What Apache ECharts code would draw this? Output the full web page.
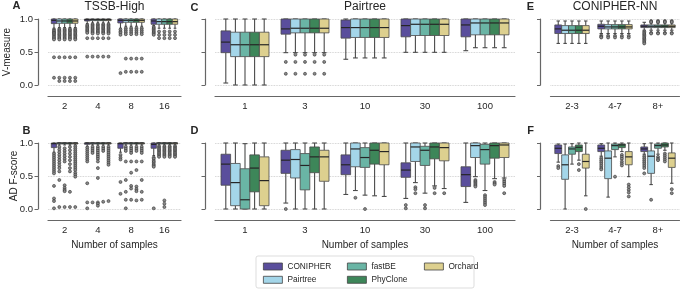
<!DOCTYPE html>
<html><head><meta charset="utf-8">
<script src="https://cdn.jsdelivr.net/npm/echarts@6/dist/echarts.min.js"></script>
<style>html,body{margin:0;padding:0;background:#fff}#c{width:686px;height:290px}</style>
</head><body><div id="c"></div>
<script>
// ---------- data ----------
const methods = ['CONIPHER', 'Pairtree', 'fastBE', 'PhyClone', 'Orchard'];
const catsTSSB = ['2', '4', '8', '16'];
const catsPairtree = ['1', '3', '10', '30', '100'];
const catsConipher = ['2-3', '4-7', '8+'];
const yTicks = [0, 0.5, 1.0];

// box stats per method (CONIPHER, Pairtree, fastBE, PhyClone, Orchard), per category: [lowWhisker, q1, median, q3, highWhisker]
const boxA = [
  [[0.86,0.93,0.98,1.0,1.0],[0.93,0.97,0.99,1.0,1.0],[0.86,0.94,0.98,1.0,1.0],[0.90,0.92,0.97,1.0,1.0]],
  [[0.87,0.935,0.97,1.0,1.0],[0.94,0.975,0.99,1.0,1.0],[0.89,0.95,0.98,1.0,1.0],[0.86,0.92,0.96,1.0,1.0]],
  [[0.87,0.935,0.97,1.0,1.0],[0.94,0.975,0.99,1.0,1.0],[0.89,0.95,0.98,1.0,1.0],[0.86,0.92,0.96,1.0,1.0]],
  [[0.87,0.935,0.97,1.0,1.0],[0.94,0.975,0.99,1.0,1.0],[0.89,0.95,0.98,1.0,1.0],[0.86,0.92,0.96,1.0,1.0]],
  [[0.87,0.935,0.97,1.0,1.0],[0.94,0.975,0.99,1.0,1.0],[0.89,0.95,0.98,1.0,1.0],[0.86,0.92,0.96,1.0,1.0]]
];
const outA = [
  [[0.84,0.82,0.80,0.79,0.77,0.75,0.73,0.71,0.69,0.42,0.11],[0.91,0.89,0.87,0.85,0.83,0.81,0.79,0.71,0.43],[0.84,0.81,0.79,0.76,0.18],[0.88,0.86,0.84,0.82,0.80,0.78,0.76]],
  [[0.85,0.83,0.81,0.79,0.77,0.75,0.73,0.71,0.69,0.42,0.11,0.06],[0.92,0.90,0.88,0.86,0.84,0.82,0.80,0.78,0.71,0.43],[0.86,0.83,0.80,0.77,0.40,0.20],[0.81,0.76,0.71]],
  [[0.85,0.83,0.81,0.79,0.77,0.75,0.73,0.71,0.69,0.42,0.11,0.06],[0.92,0.90,0.88,0.86,0.84,0.82,0.80,0.78,0.71,0.43],[0.86,0.83,0.80,0.77,0.40,0.20],[0.81,0.76,0.71]],
  [[0.85,0.83,0.81,0.79,0.77,0.75,0.73,0.71,0.69,0.42,0.11,0.06],[0.92,0.90,0.88,0.86,0.84,0.82,0.80,0.78,0.71,0.43],[0.86,0.83,0.80,0.77,0.40,0.20],[0.81,0.76,0.71]],
  [[0.85,0.83,0.81,0.79,0.77,0.75,0.73,0.71,0.69,0.42,0.11,0.06],[0.92,0.90,0.88,0.86,0.84,0.82,0.80,0.78,0.71,0.43],[0.86,0.83,0.80,0.77,0.40,0.20],[0.81,0.76,0.71]]
];
const boxB = [
  [[0.86,0.93,0.99,1.0,1.0],[0.95,0.98,1.0,1.0,1.0],[0.86,0.92,0.99,1.0,1.0],[0.81,0.92,0.98,1.0,1.0]],
  [[0.97,0.985,1.0,1.0,1.0],[0.97,0.985,1.0,1.0,1.0],[0.97,0.985,1.0,1.0,1.0],[0.97,0.985,1.0,1.0,1.0]],
  [[0.97,0.985,1.0,1.0,1.0],[0.97,0.985,1.0,1.0,1.0],[0.97,0.985,1.0,1.0,1.0],[0.97,0.985,1.0,1.0,1.0]],
  [[0.97,0.985,1.0,1.0,1.0],[0.97,0.985,1.0,1.0,1.0],[0.97,0.985,1.0,1.0,1.0],[0.97,0.985,1.0,1.0,1.0]],
  [[0.97,0.985,1.0,1.0,1.0],[0.97,0.985,1.0,1.0,1.0],[0.97,0.985,1.0,1.0,1.0],[0.97,0.985,1.0,1.0,1.0]]
];
const outB = [
  [[0.84,0.81,0.78,0.75,0.72,0.69,0.66,0.63,0.60,0.57,0.54,0.35,0.16,0.12,0.01],[0.93,0.90,0.87,0.84,0.81,0.78,0.75,0.72,0.39,0.10,0.01],[0.82,0.78,0.75,0.41,0.23],[0.78,0.76,0.73,0.71,0.68,0.66,0.64,0.01]],
  [[0.94,0.90,0.86,0.82,0.78,0.74,0.70,0.66,0.62,0.57,0.44,0.03],[0.94,0.91,0.88,0.85,0.10],[0.94,0.91,0.88,0.72,0.44,0.26,0.14,0.01],[0.95,0.93,0.91,0.89,0.87,0.85,0.83,0.81,0.79]],
  [[0.92,0.88,0.84,0.80,0.76,0.72,0.36,0.32,0.29,0.27,0.03],[0.94,0.91,0.88,0.85,0.82,0.79,0.76,0.72,0.62,0.47,0.10,0.08,0.05],[0.94,0.91,0.88,0.85,0.72,0.55,0.35,0.31,0.14],[0.95,0.93,0.91,0.89,0.87,0.85,0.83,0.81,0.79,0.13,0.08,0.03]],
  [[0.94,0.89,0.84,0.79,0.74,0.68,0.62,0.57,0.26,0.03],[0.94,0.91,0.88,0.11],[0.94,0.91,0.88,0.72,0.59,0.34,0.30,0.27,0.13],[0.95,0.93,0.91,0.89,0.87,0.85,0.83,0.81,0.79]],
  [[0.95,0.92,0.89,0.86,0.83,0.80,0.77,0.74,0.71,0.68,0.65,0.62,0.59,0.55,0.52,0.49,0.03],[0.94,0.91,0.88,0.85,0.82,0.79,0.76,0.73,0.70,0.67,0.12],[0.94,0.91,0.88,0.85,0.72,0.44,0.26,0.14],[0.95,0.93,0.91,0.89,0.87,0.85,0.83,0.81,0.79]]
];
const boxC = [
  [[0.03,0.49,0.65,0.82,1.0],[0.49,0.77,0.85,1.0,1.0],[0.39,0.71,0.87,0.985,1.0],[0.495,0.73,0.90,1.0,1.0],[0.52,0.73,0.91,1.0,1.0]],
  [[0.0,0.43,0.61,0.80,1.0],[0.49,0.79,0.86,1.0,1.0],[0.41,0.72,0.87,1.0,1.0],[0.495,0.75,0.92,1.0,1.0],[0.565,0.76,0.94,1.0,1.0]],
  [[0.0,0.43,0.61,0.80,1.0],[0.49,0.79,0.86,1.0,1.0],[0.41,0.72,0.87,1.0,1.0],[0.495,0.75,0.92,1.0,1.0],[0.565,0.76,0.94,1.0,1.0]],
  [[0.0,0.43,0.61,0.80,1.0],[0.49,0.79,0.86,1.0,1.0],[0.41,0.72,0.87,1.0,1.0],[0.495,0.75,0.92,1.0,1.0],[0.565,0.76,0.94,1.0,1.0]],
  [[0.0,0.43,0.61,0.80,1.0],[0.49,0.79,0.86,1.0,1.0],[0.41,0.72,0.87,1.0,1.0],[0.495,0.75,0.92,1.0,1.0],[0.565,0.76,0.94,1.0,1.0]]
];
const outC = [
  [[],[0.35,0.17],[],[],[]],
  [[],[0.46,0.35,0.17],[],[],[]],
  [[],[0.46,0.35,0.17],[],[],[]],
  [[],[0.46,0.35,0.17],[],[],[]],
  [[],[0.46,0.35,0.17],[],[],[]]
];
const boxD = [
  [[0.0,0.36,0.68,0.83,1.0],[0.09,0.54,0.74,0.89,1.0],[0.22,0.52,0.67,0.82,1.0],[0.16,0.48,0.59,0.70,1.0],[0.10,0.34,0.52,0.64,1.0]],
  [[0.0,0.05,0.40,0.69,1.0],[0.0,0.47,0.75,0.90,1.0],[0.28,0.64,0.91,1.0,1.0],[0.40,0.72,0.94,1.0,1.0],[0.49,0.78,0.96,1.0,1.0]],
  [[0.0,0.0,0.14,0.61,0.99],[0.0,0.29,0.66,0.84,1.0],[0.21,0.63,0.78,0.93,1.0],[0.24,0.66,0.89,0.95,1.0],[0.28,0.68,0.90,0.98,1.0]],
  [[0.0,0.26,0.62,0.82,1.0],[0.0,0.55,0.79,0.94,1.0],[0.20,0.68,0.89,1.0,1.0],[0.35,0.76,0.94,1.0,1.0],[0.46,0.77,0.96,1.0,1.0]],
  [[0.0,0.05,0.43,0.79,1.0],[0.0,0.42,0.79,0.89,1.0],[0.19,0.67,0.87,1.0,1.0],[0.31,0.73,0.93,1.0,1.0],[0.47,0.78,0.97,1.0,1.0]]
];
const outD = [
  [[],[0.0],[],[0.06,0.01],[]],
  [[],[],[0.17],[0.33,0.30,0.24],[0.44,0.42,0.40,0.38,0.36,0.34]],
  [[],[],[0.0],[0.06,0.01],[0.21,0.18,0.15,0.12,0.09,0.06]],
  [[],[],[],[0.32,0.24],[0.41,0.39,0.37]],
  [[],[],[],[0.24],[0.44,0.41,0.38,0.35,0.24]]
];
const boxE = [
  [[0.63,0.78,0.85,0.91,0.97],[0.78,0.85,0.89,0.92,0.97],[0.83,0.87,0.89,0.91,0.95]],
  [[0.63,0.78,0.83,0.90,0.97],[0.78,0.85,0.88,0.915,0.97],[0.83,0.87,0.89,0.91,0.94]],
  [[0.63,0.78,0.83,0.90,0.97],[0.78,0.85,0.88,0.915,0.97],[0.83,0.87,0.89,0.91,0.94]],
  [[0.63,0.78,0.83,0.90,0.97],[0.78,0.85,0.88,0.915,0.97],[0.83,0.87,0.89,0.91,0.94]],
  [[0.63,0.78,0.83,0.90,0.97],[0.78,0.85,0.88,0.915,0.97],[0.83,0.87,0.89,0.91,0.94]]
];
const outE = [
  [[],[0.75,0.73,0.72],[0.81,0.79,0.77,0.75,0.73,0.71,0.69,0.67,0.65,0.63]],
  [[],[0.745,0.72],[0.97,0.955,0.79,0.78]],
  [[],[0.745,0.72],[0.97,0.955,0.79,0.78]],
  [[],[0.745,0.72],[0.97,0.955,0.79,0.78]],
  [[],[0.745,0.72],[0.97,0.955,0.79,0.78]]
];
const boxF = [
  [[0.71,0.84,0.92,0.97,0.985],[0.80,0.87,0.92,0.97,0.99],[0.83,0.87,0.91,0.94,0.99]],
  [[0.0,0.45,0.67,0.82,0.985],[0.18,0.46,0.77,0.88,1.0],[0.37,0.54,0.80,0.88,1.0]],
  [[0.68,0.83,0.91,0.94,0.99],[0.79,0.90,0.96,0.985,1.0],[0.83,0.92,0.96,0.985,1.0]],
  [[0.74,0.87,0.935,0.97,1.0],[0.87,0.93,0.97,0.985,1.0],[0.89,0.94,0.97,1.0,1.0]],
  [[0.20,0.62,0.72,0.83,1.0],[0.49,0.67,0.79,0.87,1.0],[0.39,0.63,0.77,0.85,1.0]]
];
const outF = [
  [[0.65,0.62],[0.77,0.74,0.71,0.68,0.65,0.62,0.60],[0.80,0.77,0.74,0.71,0.68,0.65,0.62,0.54]],
  [[],[],[0.14]],
  [[],[0.49],[0.79,0.76,0.74]],
  [[0.68,0.59],[0.82,0.79,0.76,0.72,0.69,0.66],[0.84,0.81,0.78,0.75,0.72]],
  [[0.0],[0.37,0.33,0.29,0.25,0.19],[0.30,0.24]]
];

// ---------- styling / layout ----------
const colors = ['#5a4e9c', '#a4d6e9', '#6ab5a5', '#3d8659', '#ddd08f'];
const FONT = '"Liberation Sans", Arial, Helvetica, sans-serif';
const AX = '#666';
const TXT = '#262626';
const panels = [
  {grid:{left:48, top:19, width:133, height:66}, cats:catsTSSB, box:boxA, out:outA, labels:true, xname:false},
  {grid:{left:48, top:143, width:133, height:66}, cats:catsTSSB, box:boxB, out:outB, labels:true, xname:true},
  {grid:{left:215, top:19, width:300, height:66}, cats:catsPairtree, box:boxC, out:outC, labels:false, xname:false},
  {grid:{left:215, top:143, width:300, height:66}, cats:catsPairtree, box:boxD, out:outD, labels:false, xname:true},
  {grid:{left:550.5, top:19, width:129, height:66}, cats:catsConipher, box:boxE, out:outE, labels:false, xname:false},
  {grid:{left:550.5, top:143, width:129, height:66}, cats:catsConipher, box:boxF, out:outF, labels:false, xname:true}
];

function methodX(api, c, m) {
  const band = api.size([1, 0])[0];
  const cx = api.coord([c, 0])[0];
  const gw = band * 0.8, w = gw / 5;
  return {x: cx - gw / 2 + (m + 0.5) * w, w: w};
}
function boxRender(m) {
  return function (params, api) {
    const c = api.value(0);
    const p = methodX(api, c, m);
    const x = p.x, w = p.w;
    const y = i => api.coord([c, api.value(i)])[1];
    const lo = y(1), q1 = y(2), med = y(3), q3 = y(4), hi = y(5);
    const cap = w * 0.5;
    const ws = {stroke: '#4a4a4a', lineWidth: 1.1};
    return {type: 'group', children: [
      {type: 'line', shape: {x1: x, y1: q1, x2: x, y2: lo}, style: ws},
      {type: 'line', shape: {x1: x, y1: q3, x2: x, y2: hi}, style: ws},
      {type: 'line', shape: {x1: x - cap / 2, y1: lo, x2: x + cap / 2, y2: lo}, style: ws},
      {type: 'line', shape: {x1: x - cap / 2, y1: hi, x2: x + cap / 2, y2: hi}, style: ws},
      {type: 'rect', shape: {x: x - w / 2, y: q3, width: w, height: Math.max(q1 - q3, 0.6)},
        style: {fill: colors[m], stroke: '#4a4a4a', lineWidth: 0.8}},
      {type: 'line', shape: {x1: x - w / 2, y1: med, x2: x + w / 2, y2: med}, style: {stroke: '#262626', lineWidth: 1.2}}
    ]};
  };
}
function outRender(m) {
  return function (params, api) {
    const c = api.value(0);
    const p = methodX(api, c, m);
    const yy = api.coord([c, api.value(1)])[1];
    return {type: 'circle', shape: {cx: p.x, cy: yy, r: 1.5},
      style: {fill: '#8a8a8a', stroke: '#333', lineWidth: 0.6}};
  };
}

const grids = [], xAxes = [], yAxes = [], series = [];
panels.forEach((P, g) => {
  grids.push(Object.assign({containLabel: false}, P.grid));
  xAxes.push({
    type: 'category', gridIndex: g, data: P.cats, offset: 11,
    axisLine: {onZero: false, lineStyle: {color: AX, width: 1.2}},
    axisTick: {alignWithLabel: true, length: 3, lineStyle: {color: AX, width: 1}},
    axisLabel: {fontSize: 9.5, color: TXT, margin: 5, fontFamily: FONT},
    splitLine: {show: false},
    name: P.xname ? 'Number of samples' : '', nameLocation: 'middle', nameGap: 20,
    nameTextStyle: {fontSize: 10, color: TXT, fontFamily: FONT}
  });
  yAxes.push({
    type: 'value', gridIndex: g, min: yTicks[0], max: yTicks[yTicks.length - 1], interval: 0.5, offset: 10,
    axisLine: {show: true, lineStyle: {color: AX, width: 1.2}},
    axisTick: {show: true, length: 3.5, lineStyle: {color: AX, width: 1}},
    axisLabel: {show: P.labels, fontSize: 9.5, color: TXT, margin: 5, fontFamily: FONT,
      formatter: v => v.toFixed(1)},
    splitLine: {show: true, lineStyle: {type: 'dotted', color: '#c4c4c4', width: 0.8}}
  });
  methods.forEach((name, m) => {
    series.push({
      type: 'custom', name: name, xAxisIndex: g, yAxisIndex: g, silent: true,
      itemStyle: {color: colors[m]},
      renderItem: boxRender(m),
      encode: {x: 0, y: [1, 2, 3, 4, 5]},
      data: P.box[m].map((s, i) => [i].concat(s)),
      z: 2
    });
  });
  methods.forEach((name, m) => {
    const d = [];
    P.out[m].forEach((vals, i) => vals.forEach(v => d.push([i, v])));
    series.push({
      type: 'custom', name: name + ' outliers', xAxisIndex: g, yAxisIndex: g, silent: true,
      renderItem: outRender(m), encode: {x: 0, y: 1}, data: d, z: 3
    });
  });
});

const legendBase = {
  orient: 'vertical', top: 261.5, padding: 0, itemWidth: 19, itemHeight: 7, itemGap: 3.3,
  selectedMode: false, icon: 'rect',
  itemStyle: {borderColor: '#444', borderWidth: 0.8},
  textStyle: {fontSize: 8.3, color: TXT, fontFamily: FONT, lineHeight: 10}
};
const legItem = n => ({name: n, itemStyle: {color: colors[methods.indexOf(n)]}});
const legends = [
  Object.assign({}, legendBase, {left: 263, data: ['CONIPHER', 'Pairtree'].map(legItem)}),
  Object.assign({}, legendBase, {left: 347, data: ['fastBE', 'PhyClone'].map(legItem)}),
  Object.assign({}, legendBase, {left: 424, data: ['Orchard'].map(legItem)})
];

const T = (text, x, y, size, weight, extra) => Object.assign({
  type: 'text', x: x, y: y, silent: true,
  style: {text: text, fontSize: size, fontWeight: weight || 'normal', fill: TXT, fontFamily: FONT,
    align: 'center', verticalAlign: 'middle'}
}, extra || {});

const graphics = [
  T('TSSB-High', 114.5, 7, 12),
  T('Pairtree', 365, 7, 12),
  T('CONIPHER-NN', 615, 7, 12),
  T('A', 16.5, 6, 11, 'bold'),
  T('B', 26.5, 131, 11, 'bold'),
  T('C', 194.5, 8, 11, 'bold'),
  T('D', 194.5, 131, 11, 'bold'),
  T('E', 530.5, 7, 11, 'bold'),
  T('F', 530.5, 131, 11, 'bold'),
  T('V-measure', 7, 52, 10, 'normal', {rotation: Math.PI / 2}),
  T('AD F-score', 14, 176, 10, 'normal', {rotation: Math.PI / 2}),
  {type: 'rect', silent: true, shape: {x: 256, y: 256, width: 218, height: 32, r: 2},
    style: {fill: 'none', stroke: '#d4d4d4', lineWidth: 0.8}}
];

const chart = echarts.init(document.getElementById('c'), null, {renderer: 'canvas'});
chart.setOption({
  animation: false,
  backgroundColor: '#fff',
  textStyle: {fontFamily: FONT},
  grid: grids, xAxis: xAxes, yAxis: yAxes, series: series,
  legend: legends, graphic: graphics, tooltip: {show: false}
});
</script>
</body></html>
